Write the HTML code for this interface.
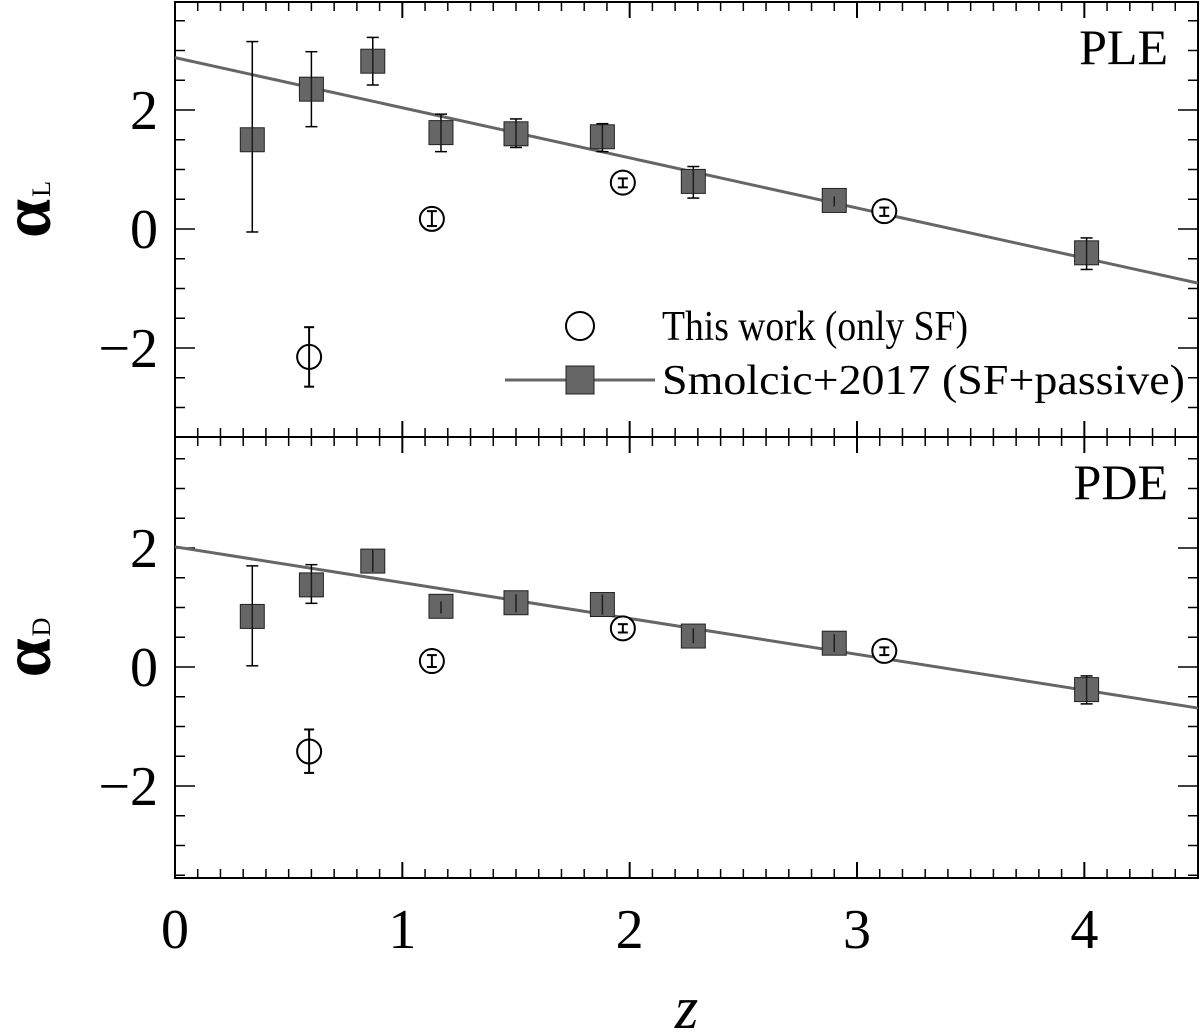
<!DOCTYPE html>
<html><head><meta charset="utf-8"><style>
html,body{margin:0;padding:0;background:#fff}
svg{display:block;font-family:"Liberation Serif",serif}
</style></head><body>
<svg id="chart" width="1200" height="1032" viewBox="0 0 1200 1032"></svg>
<script>
// ---- data ----
const sqZ = [0.34, 0.60, 0.87, 1.17, 1.50, 1.88, 2.28, 2.90, 4.01];
const sqL = [1.50, 2.35, 2.82, 1.62, 1.60, 1.55, 0.80, 0.48, -0.40];
const sqLlo = [-0.05, 1.72, 2.42, 1.30, 1.37, 1.30, 0.52, 0.38, -0.68];
const sqLhi = [3.15, 2.98, 3.22, 1.93, 1.85, 1.77, 1.05, 0.55, -0.15];
const sqD = [0.85, 1.38, 1.78, 1.02, 1.08, 1.05, 0.52, 0.40, -0.38];
const sqDlo = [0.02, 1.07, 1.60, 0.90, 0.92, 0.88, 0.40, 0.25, -0.62];
const sqDhi = [1.70, 1.72, 1.97, 1.10, 1.22, 1.22, 0.65, 0.55, -0.15];
const ciZ = [0.59, 1.13, 1.97, 3.12];
const ciL = [-2.15, 0.17, 0.78, 0.30];
const ciLlo = [-2.65, 0.05, 0.70, 0.22];
const ciLhi = [-1.65, 0.30, 0.85, 0.36];
const ciD = [-1.42, 0.10, 0.65, 0.27];
const ciDlo = [-1.78, 0.00, 0.58, 0.20];
const ciDhi = [-1.05, 0.20, 0.72, 0.33];
const fitL = [2.88, -0.91]; // value at z=0 and z=4.5
const fitD = [2.02, -0.69];
const xTicks = [0, 1, 2, 3, 4];
const yTicks = [-2, 0, 2];

const svg = document.getElementById('chart');
const NS = 'http://www.w3.org/2000/svg';
function mk(tag, attrs, parent){const e=document.createElementNS(NS,tag);for(const k in attrs)e.setAttribute(k,attrs[k]);(parent||svg).appendChild(e);return e;}
const X0=175, X1=1198;
const xs = z => X0 + z*(X1-X0)/4.5;

const panels = [
 {top:2, bot:437, y0:229, s:59.5, vals:sqL, lo:sqLlo, hi:sqLhi, cv:ciL, clo:ciLlo, chi:ciLhi, fit:fitL, label:'PLE', name:'top-panel-ple', sub:'L'},
 {top:437, bot:878, y0:667, s:59.5, vals:sqD, lo:sqDlo, hi:sqDhi, cv:ciD, clo:ciDlo, chi:ciDhi, fit:fitD, label:'PDE', name:'bottom-panel-pde', sub:'D'}
];

panels.forEach((p,pi)=>{
  const g = mk('g',{});
  
  
  const ys = v => p.y0 - v*p.s;
  const vmin = (p.y0-p.bot)/p.s, vmax=(p.y0-p.top)/p.s;
  const fr = mk('rect',{x:X0,y:p.top,width:X1-X0,height:p.bot-p.top,fill:'none',stroke:'#000','stroke-width':2},g);
  
  
  for(let i=1;i<45;i++){
    const z=i/10, x=xs(z), major=i%10===0, L=major?16:9;
    mk('line',{x1:x,x2:x,y1:p.bot,y2:p.bot-L,stroke:'#000','stroke-width':major?2:1.5},g);
    mk('line',{x1:x,x2:x,y1:p.top,y2:p.top+L,stroke:'#000','stroke-width':major?2:1.5},g);
  }
  for(let v=Math.ceil(vmin*2)/2; v<=vmax; v+=0.5){
    const y=ys(v), major=Math.abs(v-Math.round(v/2)*2)<1e-6, L=major?20:10;
    mk('line',{x1:X0,x2:X0+L,y1:y,y2:y,stroke:'#000','stroke-width':1.5},g);
    mk('line',{x1:X1,x2:X1-L,y1:y,y2:y,stroke:'#000','stroke-width':1.5},g);
  }
  yTicks.forEach(v=>{
    const t=mk('text',{x:158,y:ys(v)+19,'text-anchor':'end','font-size':56},g);
    t.textContent = v<0 ? '\u2212'+Math.abs(v) : String(v);
    
    
  });
  const fl = mk('line',{x1:xs(0),y1:ys(p.fit[0]),x2:xs(4.5),y2:ys(p.fit[1]),stroke:'#666','stroke-width':3},g);
  
  
  p.vals.forEach((v,i)=>{
    const x=xs(sqZ[i]);
    const eb=mk('g',{},g);
    
    
    mk('line',{x1:x,x2:x,y1:ys(p.lo[i]),y2:ys(p.hi[i]),stroke:'#000','stroke-width':1.5},eb);
    mk('line',{x1:x-6,x2:x+6,y1:ys(p.lo[i]),y2:ys(p.lo[i]),stroke:'#000','stroke-width':1.5},eb);
    mk('line',{x1:x-6,x2:x+6,y1:ys(p.hi[i]),y2:ys(p.hi[i]),stroke:'#000','stroke-width':1.5},eb);
    mk('rect',{x:x-12,y:ys(v)-12,width:24,height:24,fill:'#666',stroke:'#222','stroke-width':1},eb);
    mk('line',{x1:x,x2:x,y1:Math.max(ys(v)-12,ys(p.hi[i])),y2:Math.min(ys(v)+12,ys(p.lo[i])),stroke:'#000','stroke-width':1.5,opacity:0.7},eb);
  });
  p.cv.forEach((v,i)=>{
    const x=xs(ciZ[i]);
    const eb=mk('g',{},g);
    
    
    mk('circle',{cx:x,cy:ys(v),r:12,fill:'#fff',stroke:'#000','stroke-width':2},eb);
    mk('line',{x1:x,x2:x,y1:ys(p.clo[i]),y2:ys(p.chi[i]),stroke:'#000','stroke-width':2},eb);
    mk('line',{x1:x-5,x2:x+5,y1:ys(p.clo[i]),y2:ys(p.clo[i]),stroke:'#000','stroke-width':2},eb);
    mk('line',{x1:x-5,x2:x+5,y1:ys(p.chi[i]),y2:ys(p.chi[i]),stroke:'#000','stroke-width':2},eb);
  });
  const lab = mk('text',{x:1168,y:p.top+62,'text-anchor':'end','font-size':50},g);
  lab.textContent=p.label;
  
  
  const cy=(p.top+p.bot)/2;
  const yl = mk('text',{x:0,y:0,'text-anchor':'middle','font-size':70,'font-weight':'bold',transform:`translate(50 ${cy-10}) rotate(-90)`},g);
  yl.innerHTML = 'α<tspan font-size="26" font-weight="normal" dx="2">'+p.sub+'</tspan>';
  
  
});
xTicks.forEach(v=>{
  const t=mk('text',{x:xs(v),y:948,'text-anchor':'middle','font-size':56});
  t.textContent=String(v);
  
  
});
const xt=mk('text',{x:xs(2.25),y:1028,'text-anchor':'middle','font-size':60,'font-style':'italic'});
xt.textContent='z';


const lg=mk('g',{});


const e1=mk('g',{},lg);


mk('circle',{cx:580,cy:326,r:14,fill:'#fff',stroke:'#000','stroke-width':2},e1);
const t1=mk('text',{x:662,y:340,'font-size':42,textLength:306,lengthAdjust:'spacingAndGlyphs'},e1);t1.textContent='This work (only SF)';
const e2=mk('g',{},lg);


mk('line',{x1:505,x2:655,y1:380,y2:380,stroke:'#666','stroke-width':3},e2);
mk('rect',{x:566,y:366,width:28,height:28,fill:'#666',stroke:'#222','stroke-width':1},e2);
const t2=mk('text',{x:662,y:394,'font-size':42,textLength:523,lengthAdjust:'spacingAndGlyphs'},e2);t2.textContent='Smolcic+2017 (SF+passive)';
</script>
</body></html>
